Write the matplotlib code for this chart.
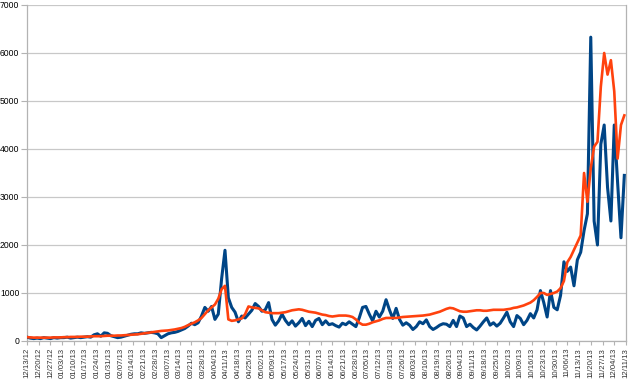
import numpy as np
import matplotlib
matplotlib.use('Agg')
import matplotlib.pyplot as plt

plt.rcParams['font.family'] = ['Liberation Sans', 'DejaVu Sans']

# weekly category labels (every 7th data point)
tick_labels = [
    '12/13/12', '12/20/12', '12/27/12', '01/03/13', '01/10/13', '01/17/13',
    '01/24/13', '01/31/13', '02/07/13', '02/14/13', '02/21/13', '02/28/13',
    '03/07/13', '03/14/13', '03/21/13', '03/28/13', '04/04/13', '04/11/13',
    '04/18/13', '04/25/13', '05/02/13', '05/09/13', '05/17/13', '05/24/13',
    '05/31/13', '06/07/13', '06/14/13', '06/21/13', '06/28/13', '07/05/13',
    '07/12/13', '07/19/13', '07/26/13', '08/03/13', '08/10/13', '08/19/13',
    '08/26/13', '09/04/13', '09/11/13', '09/18/13', '09/25/13', '10/02/13',
    '10/09/13', '10/16/13', '10/23/13', '10/30/13', '11/06/13', '11/13/13',
    '11/20/13', '11/27/13', '12/04/13', '12/11/13',
]

# series values, one reading every 2 data points
blue = [
    80, 60, 50, 60, 50, 70, 60, 50, 70, 60, 70,
    70, 80, 60, 70, 80, 70, 80, 90, 80, 130,
    150, 100, 170, 160, 110, 90, 70, 80, 100, 120,
    140, 150, 150, 170, 160, 170, 180, 170, 150, 70,
    110, 150, 170, 180, 200, 230, 260, 310, 370, 340,
    380, 520, 700, 620, 720, 450, 560, 1300, 1890, 900,
    700, 600, 400, 520, 480, 560, 640, 780, 720, 620,
    650, 800, 450, 330, 420, 560, 430, 340, 420, 310,
    380, 470, 320, 410, 300, 430, 470, 340, 420, 340,
    360, 320, 290, 370, 340, 400, 350, 300, 480, 700,
    720, 560, 420, 620, 500, 620, 860, 650, 470, 680,
    450, 330, 380, 330, 240, 300, 400, 360, 440, 300,
    240, 280, 330, 360, 350, 300, 430, 300, 520, 480,
    300, 350, 280, 230, 310, 400, 480, 330, 380, 310,
    370, 480, 600, 400, 300, 530, 470, 340, 430, 570,
    480, 650, 1050, 800, 500, 1050, 700, 650, 950, 1650,
    1450, 1540, 1150, 1690, 1850, 2300, 2650, 6330, 2500, 2000,
    4100, 4500, 3200, 2500, 4500, 3300, 2150, 3450,
]

orange = [
    80, 75, 70, 70, 70, 70, 70, 70, 75, 75, 75,
    80, 80, 85, 85, 85, 90, 90, 90, 95, 100,
    100, 100, 105, 110, 110, 110, 115, 115, 120, 125,
    130, 135, 140, 150, 160, 170, 180, 190, 200, 210,
    215, 220, 230, 240, 255, 270, 295, 330, 360, 390,
    430, 480, 560, 640, 700, 760, 880, 1080, 1150, 450,
    420, 430, 450, 470, 560, 720, 700, 690, 680, 640,
    600, 590, 580, 580, 580, 590, 600, 620, 640, 650,
    660, 650, 630, 610, 600, 590, 570, 550, 540, 520,
    510, 520, 530, 530, 530, 520, 500, 450, 380, 340,
    340, 360, 390, 410, 430, 460, 480, 480, 480, 480,
    490, 500, 505, 510, 515, 520, 525, 530, 540, 550,
    570, 590, 610, 640, 670, 690, 680, 650, 620, 610,
    610, 620, 630, 640, 640, 630, 630, 640, 650, 650,
    650, 650, 660, 670, 690, 700, 720, 740, 770, 800,
    850, 920, 1000, 1000, 960, 980, 1000, 1030, 1100, 1250,
    1640, 1750, 1900, 2050, 2200, 3500, 2900, 3600, 4050, 4150,
    5300, 6000, 5550, 5850, 5200, 3800, 4500, 4700,
]

idx = np.arange(len(blue)) * 2
tick_pos = np.arange(len(tick_labels)) * 7

fig = plt.figure(figsize=(6.3, 3.83), dpi=100)
ax = fig.add_axes([27 / 630, 42 / 383, 599 / 630, 336 / 383])

ax.plot(idx, blue, color='#004586', linewidth=2.2, solid_joinstyle='round', zorder=3)
ax.plot(idx, orange, color='#ff420e', linewidth=1.9, solid_joinstyle='round', zorder=4)

ax.set_xlim(0, 357)
ax.set_ylim(0, 7000)
ax.set_yticks(range(0, 7001, 1000))
ax.set_xticks(tick_pos)
ax.set_xticklabels(tick_labels, rotation=90, fontsize=5.6, color='#333333')
ax.tick_params(axis='y', labelsize=6.2, length=4, width=0.8, color='#b3b3b3', pad=1.5)
ax.tick_params(axis='x', length=3, width=0.8, color='#b3b3b3', pad=2)

ax.grid(True, axis='y', color='#c8c8c8', linewidth=0.9)
ax.set_axisbelow(True)
for side in ['left', 'bottom', 'right']:
    ax.spines[side].set_color('#b3b3b3')
    ax.spines[side].set_linewidth(0.9)
ax.spines['top'].set_visible(False)

fig.savefig('out.png', dpi=100)
